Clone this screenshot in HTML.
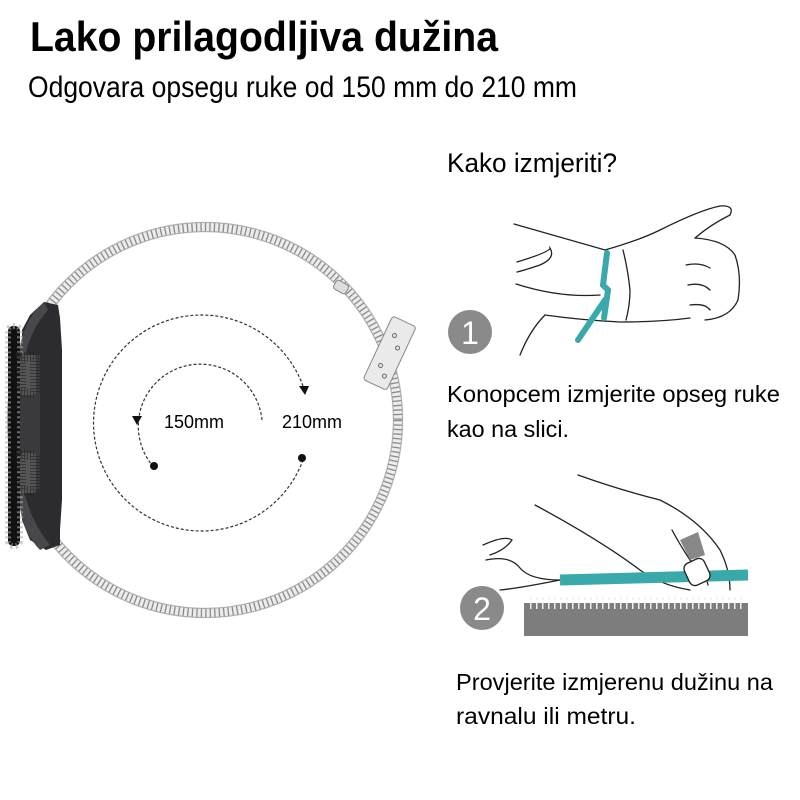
<!DOCTYPE html>
<html><head><meta charset="utf-8"><style>html,body{margin:0;padding:0;background:#fff}svg{display:block}</style></head>
<body>
<svg width="800" height="800" viewBox="0 0 800 800" xmlns="http://www.w3.org/2000/svg" font-family="Liberation Sans, Arial, sans-serif">
<rect width="800" height="800" fill="#fff"/>
<text x="30" y="51" font-size="42" font-weight="bold" textLength="468" lengthAdjust="spacingAndGlyphs">Lako prilagodljiva dužina</text>
<text x="28" y="97" font-size="30" textLength="549" lengthAdjust="spacingAndGlyphs">Odgovara opsegu ruke od 150 mm do 210 mm</text>

<!-- mesh band -->
<circle cx="205" cy="420" r="193" fill="none" stroke="#ececec" stroke-width="11"/>
<circle cx="205" cy="420" r="193" fill="none" stroke="#8a8a8a" stroke-width="10" stroke-dasharray="1.3 3.2"/>
<circle cx="205" cy="420" r="197.5" fill="none" stroke="#aaa" stroke-width="1"/>
<circle cx="205" cy="420" r="188.5" fill="none" stroke="#aaa" stroke-width="1"/>
<!-- clasp -->
<g transform="rotate(25 390 350)">
<rect x="378" y="318" width="26" height="70" rx="3" fill="#eaeaea" stroke="#888"/>
<circle cx="388" cy="335" r="2" fill="none" stroke="#666"/><circle cx="396" cy="345" r="2" fill="none" stroke="#666"/>
<circle cx="388" cy="368" r="2" fill="none" stroke="#666"/><circle cx="396" cy="376" r="2" fill="none" stroke="#666"/>
</g>
<rect x="334" y="282" width="14" height="10" rx="3" fill="#ddd" stroke="#888" transform="rotate(30 341 287)"/>

<!-- watch -->
<path d="M44 302 L58 305 L60 318 L62 350 L62 500 L60 530 L60 545 L46 550 L30 540 L22 520 L22 330 L30 315 Z" fill="#2c2c30"/>
<path d="M48 310 Q30 330 24 360 L24 490 Q30 520 50 545 L40 550 Q20 530 18 490 L18 360 Q22 320 44 302 Z" fill="#48484c"/>
<rect x="8" y="326" width="12" height="220" rx="5" fill="#111"/>
<rect x="8" y="326" width="12" height="220" rx="5" fill="none" stroke="#aaa" stroke-width="6" stroke-dasharray="2 3" opacity=".6"/>
<rect x="20" y="355" width="20" height="135" fill="#3a3a3e"/>
<rect x="20" y="355" width="16" height="40" rx="3" fill="#555"/>
<rect x="20" y="453" width="16" height="40" rx="3" fill="#555"/>
<rect x="21" y="357" width="14" height="36" fill="none" stroke="#222" stroke-width="10" stroke-dasharray="1 2" opacity=".6"/>
<rect x="21" y="455" width="14" height="36" fill="none" stroke="#222" stroke-width="10" stroke-dasharray="1 2" opacity=".6"/>

<!-- dashed arrows -->
<path d="M303 386 A108 108 0 1 0 303 460" fill="none" stroke="#333" stroke-width="1.2" stroke-dasharray="3 2"/>
<path d="M262 420 A62 62 0 1 0 152 465" fill="none" stroke="#333" stroke-width="1.2" stroke-dasharray="3 2"/>
<polygon points="299,386 309,386 305,395" fill="#111"/>
<polygon points="132,416 142,416 137,425" fill="#111"/>
<circle cx="154" cy="466" r="4" fill="#111"/>
<circle cx="302" cy="458" r="4" fill="#111"/>
<text x="164" y="428" font-size="18">150mm</text>
<text x="282" y="428" font-size="18">210mm</text>

<!-- right -->
<text x="447" y="172" font-size="27" textLength="170" lengthAdjust="spacingAndGlyphs">Kako izmjeriti?</text>
<g fill="none" stroke="#222" stroke-width="1.3" stroke-linecap="round">
<path d="M514 224 Q570 240 605 250 Q640 240 660 230 Q700 210 720 206 Q735 205 730 215 Q710 225 695 238"/>
<path d="M695 238 Q725 240 735 255 Q742 275 738 300 Q730 318 705 320"/>
<path d="M686 265 Q700 262 710 268 M688 285 Q702 282 710 290 M690 305 Q705 303 710 310"/>
<path d="M517 262 Q550 252 550 248 Q556 258 540 265 Q525 270 517 272"/>
<path d="M516 284 Q560 298 600 295"/>
<path d="M545 315 Q580 320 620 322 Q660 322 690 318"/>
<path d="M545 315 Q530 330 520 355"/>
<path d="M623 250 Q628 270 630 290 Q630 305 626 320"/>
</g>
<path d="M607 253 L603 285 L608 290 L604 318 M605 300 L578 340" fill="none" stroke="#3aa9a9" stroke-width="6" stroke-linecap="round"/>
<circle cx="470" cy="332" r="22" fill="#8a8a8a"/>
<text x="470" y="344" font-size="32" fill="#fff" text-anchor="middle">1</text>

<text x="447" y="402" font-size="23" textLength="333" lengthAdjust="spacingAndGlyphs">Konopcem izmjerite opseg ruke</text>
<text x="447" y="437" font-size="23" textLength="122" lengthAdjust="spacingAndGlyphs">kao na slici.</text>

<g fill="none" stroke="#222" stroke-width="1.3" stroke-linecap="round">
<path d="M578 475 Q620 490 660 500 Q700 520 720 550 Q730 570 730 590"/>
<path d="M535 505 Q600 540 640 570 Q660 585 690 590"/>
<path d="M483 545 Q505 535 512 540 Q505 550 490 555 M486 560 Q510 555 520 568 Q530 580 560 580"/>
<path d="M500 590 Q520 588 560 580"/>
<path d="M672 530 Q680 545 690 560 M690 560 Q705 570 708 585"/>
</g>
<polygon points="680,540 698,532 705,555 690,560" fill="#888"/>
<path d="M560 580 L748 575" stroke="#3aa9a9" stroke-width="11"/>
<rect x="686" y="560" width="22" height="24" rx="6" fill="#fff" stroke="#222" stroke-width="1.3" transform="rotate(-25 697 572)"/>
<rect x="524" y="603" width="224" height="33" fill="#7d7d7d"/>
<line x1="530" y1="603" x2="745" y2="603" stroke="#eee" stroke-width="12" stroke-dasharray="1.5 4.5"/>
<rect x="524" y="600" width="224" height="3" fill="#fff"/>
<circle cx="482" cy="608" r="22" fill="#8a8a8a"/>
<text x="482" y="620" font-size="32" fill="#fff" text-anchor="middle">2</text>

<text x="456" y="690" font-size="23" textLength="317" lengthAdjust="spacingAndGlyphs">Provjerite izmjerenu dužinu na</text>
<text x="456" y="724" font-size="23" textLength="180" lengthAdjust="spacingAndGlyphs">ravnalu ili metru.</text>
</svg>
</body></html>
